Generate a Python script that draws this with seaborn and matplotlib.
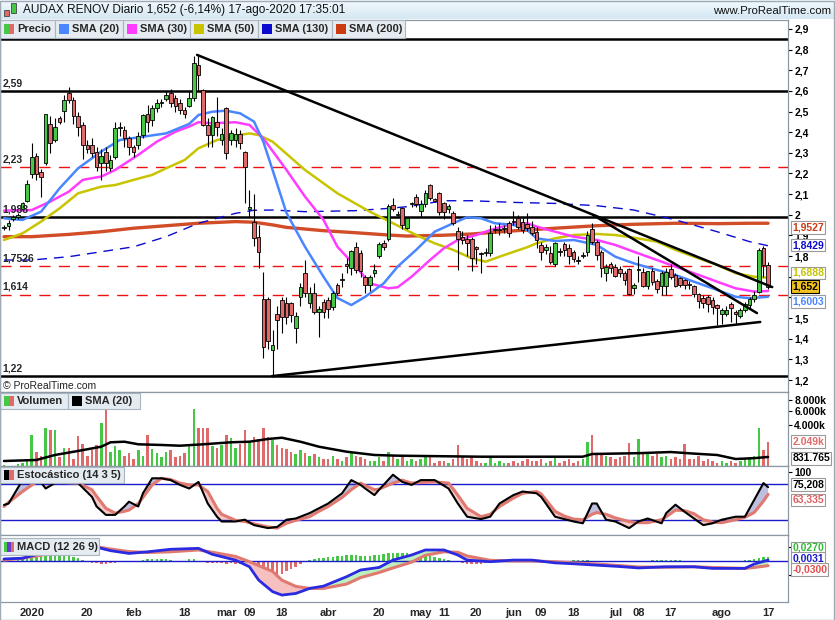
import numpy as np
import pandas as pd
import matplotlib
matplotlib.use("Agg")
import matplotlib.pyplot as plt
from matplotlib.patches import Rectangle
import seaborn as sns

sns.set_style("white")
plt.rcParams['font.family'] = ['Liberation Sans', 'DejaVu Sans']

# ---------------- data ----------------
holidays = ['2019-12-25', '2019-12-26', '2020-01-01', '2020-04-10', '2020-04-13', '2020-05-01']
dates = pd.bdate_range('2019-12-20', '2020-08-17', freq='C', holidays=holidays)

opens = [1.935,1.945,1.98,1.99,2.03,2.067,2.196,2.286,2.209,2.249,
         2.438,2.362,2.467,2.502,2.588,2.555,2.48,2.435,2.338,2.338,
         2.305,2.249,2.305,2.225,2.281,2.42,2.41,2.37,2.33,2.338,
         2.386,2.49,2.457,2.515,2.54,2.559,2.588,2.563,2.54,2.507,
         2.527,2.563,2.725,2.604,2.435,2.386,2.448,2.362,2.515,2.362,
         2.362,2.39,2.305,2.026,1.965,1.89,1.591,1.591,1.346,1.52,
         1.587,1.571,1.571,1.45,1.604,1.717,1.571,1.623,1.531,1.58,
         1.587,1.552,1.66,1.683,1.76,1.74,1.843,1.813,1.70,1.66,
         1.717,1.80,1.862,1.881,2.047,2.00,2.031,1.935,2.05,2.085,
         2.018,2.051,2.144,2.07,2.107,2.056,2.026,2.007,1.923,1.894,
         1.881,1.881,1.846,1.813,1.815,1.813,1.926,1.928,1.93,1.959,
         1.967,1.983,1.967,1.954,1.943,1.918,1.854,1.83,1.813,1.76,
         1.82,1.857,1.841,1.822,1.78,1.80,1.822,1.93,1.87,1.822,
         1.72,1.76,1.749,1.738,1.72,1.736,1.647,1.733,1.725,1.657,
         1.728,1.68,1.655,1.657,1.738,1.709,1.693,1.683,1.665,1.657,
         1.615,1.596,1.60,1.587,1.563,1.518,1.52,1.567,1.531,1.51,
         1.539,1.563,1.59,1.628,1.84,1.757]
highs = [1.95,1.975,2.00,2.01,2.06,2.17,2.346,2.30,2.22,2.49,
         2.48,2.47,2.48,2.58,2.62,2.57,2.50,2.45,2.36,2.37,
         2.33,2.32,2.33,2.29,2.45,2.45,2.43,2.38,2.34,2.40,
         2.49,2.53,2.53,2.56,2.56,2.60,2.61,2.58,2.56,2.52,
         2.60,2.77,2.77,2.61,2.47,2.48,2.57,2.42,2.52,2.41,
         2.42,2.41,2.31,2.12,2.10,1.95,1.725,1.60,1.44,1.56,
         1.60,1.60,1.58,1.53,1.67,1.78,1.65,1.67,1.56,1.59,
         1.60,1.63,1.67,1.72,1.79,1.83,1.87,1.83,1.71,1.71,
         1.76,1.87,1.88,2.05,2.08,2.02,2.04,1.99,2.06,2.10,
         2.07,2.12,2.15,2.08,2.11,2.06,2.05,2.02,1.94,1.92,
         1.90,1.89,1.85,1.82,1.84,1.95,1.95,1.96,1.95,1.97,
         2.02,2.00,1.99,2.01,1.97,1.94,1.87,1.86,1.85,1.87,
         1.84,1.87,1.86,1.83,1.80,1.82,1.92,1.96,1.88,1.83,
         1.76,1.77,1.76,1.75,1.73,1.74,1.67,1.80,1.74,1.73,
         1.74,1.69,1.73,1.74,1.76,1.72,1.70,1.69,1.68,1.66,
         1.62,1.61,1.61,1.60,1.57,1.55,1.56,1.58,1.54,1.55,
         1.58,1.60,1.63,1.84,1.85,1.77]
lows = [1.925,1.925,1.97,1.98,2.02,2.06,2.176,2.17,2.087,2.24,
        2.30,2.35,2.44,2.45,2.54,2.44,2.38,2.27,2.30,2.28,
        2.21,2.17,2.21,2.21,2.27,2.38,2.33,2.29,2.28,2.32,
        2.37,2.40,2.43,2.50,2.52,2.55,2.52,2.50,2.49,2.47,
        2.52,2.55,2.60,2.43,2.33,2.33,2.38,2.34,2.27,2.34,
        2.33,2.32,2.055,1.99,1.85,1.74,1.305,1.35,1.216,1.35,
        1.43,1.47,1.48,1.38,1.56,1.60,1.55,1.52,1.41,1.50,
        1.50,1.54,1.61,1.65,1.72,1.71,1.72,1.70,1.62,1.63,
        1.70,1.79,1.83,1.875,2.02,1.99,1.93,1.93,2.04,2.04,
        1.99,2.04,2.07,2.06,2.00,1.98,2.01,1.95,1.733,1.86,
        1.80,1.73,1.76,1.717,1.80,1.80,1.91,1.90,1.91,1.89,
        1.95,1.93,1.91,1.92,1.90,1.84,1.78,1.81,1.76,1.75,
        1.80,1.80,1.76,1.77,1.76,1.79,1.80,1.86,1.78,1.70,
        1.68,1.72,1.70,1.70,1.66,1.61,1.615,1.676,1.65,1.64,
        1.66,1.62,1.61,1.61,1.69,1.65,1.65,1.64,1.64,1.60,
        1.55,1.55,1.53,1.52,1.466,1.47,1.51,1.48,1.47,1.50,
        1.53,1.55,1.58,1.62,1.70,1.64]
closes = [1.94,1.96,1.99,2.00,2.055,2.147,2.278,2.196,2.184,2.486,
          2.346,2.423,2.448,2.556,2.555,2.48,2.427,2.338,2.318,2.297,
          2.233,2.284,2.249,2.265,2.419,2.425,2.37,2.33,2.305,2.381,
          2.483,2.448,2.515,2.54,2.542,2.58,2.54,2.528,2.507,2.488,
          2.563,2.733,2.676,2.435,2.386,2.475,2.427,2.39,2.297,2.394,
          2.39,2.346,2.233,2.04,1.886,1.82,1.362,1.391,1.37,1.49,
          1.507,1.507,1.515,1.51,1.652,1.62,1.62,1.531,1.542,1.531,
          1.542,1.62,1.62,1.685,1.75,1.825,1.733,1.73,1.66,1.70,
          1.733,1.858,1.843,2.043,2.027,2.002,1.951,1.983,2.051,2.051,
          2.051,2.104,2.08,2.069,2.015,2.015,2.044,1.959,1.881,1.88,
          1.865,1.789,1.833,1.81,1.82,1.91,1.928,1.93,1.935,1.91,
          1.965,1.943,1.927,1.935,1.91,1.878,1.822,1.843,1.773,1.865,
          1.818,1.83,1.802,1.784,1.778,1.801,1.902,1.87,1.806,1.741,
          1.749,1.741,1.705,1.717,1.684,1.615,1.66,1.735,1.657,1.728,
          1.673,1.64,1.72,1.725,1.70,1.657,1.66,1.66,1.66,1.615,
          1.583,1.571,1.567,1.555,1.547,1.539,1.54,1.547,1.518,1.539,
          1.567,1.59,1.612,1.83,1.757,1.652]
volumes = [400,350,300,450,500,600,2700,1200,900,3500,
           3300,3300,800,1500,1500,700,2600,1800,900,1300,
           1700,4200,6300,1200,1600,1300,900,1100,700,1300,
           900,2700,1400,1100,800,1200,1300,800,900,1100,
           1700,6300,3500,3500,3500,1600,1500,1700,2700,2400,
           1500,1800,3300,2000,2500,2300,3600,2500,2200,1700,
           1500,1400,1200,1000,1300,1100,900,1000,800,700,
           700,900,700,600,800,1100,900,800,700,600,
           600,800,600,1200,900,700,800,600,700,600,
           700,800,800,500,600,600,500,700,1700,800,
           700,900,600,500,500,800,500,600,500,500,
           600,500,600,700,600,600,700,500,600,900,
           500,600,700,500,600,700,2000,2700,1100,1000,
           900,800,700,800,900,1900,800,2300,1200,1000,
           900,1000,800,900,700,800,700,1800,700,700,
           900,600,700,600,500,600,500,600,500,600,
           700,800,900,3600,1350,2049]

# moving averages (trading-day index, value)
sma20_k = [0,4,8,12,16,21,25,30,35,40,42,45,48,51,54,56,58,61,65,69,72,75,78,82,85,89,93,97,100,103,106,110,113,115,119,123,128,132,136,141,145,149,154,158,161,165]
sma20_v = [1.983,1.975,2.015,2.128,2.225,2.306,2.362,2.378,2.394,2.44,2.483,2.499,2.504,2.491,2.451,2.354,2.217,2.009,1.845,1.70,1.597,1.563,1.603,1.668,1.749,1.83,1.918,1.959,1.988,1.983,1.959,1.951,1.926,1.886,1.873,1.878,1.854,1.797,1.765,1.733,1.708,1.676,1.636,1.603,1.596,1.603]
sma30_k = [0,6,10,14,17,21,24,29,33,37,40,42,45,50,53,56,61,65,69,72,76,79,83,85,88,92,95,98,102,105,109,113,115,119,123,128,132,136,141,145,149,154,158,162,165]
sma30_v = [2.02,2.023,2.064,2.112,2.169,2.185,2.217,2.29,2.354,2.402,2.427,2.448,2.443,2.448,2.435,2.37,2.217,2.088,1.975,1.845,1.749,1.668,1.644,1.649,1.70,1.781,1.838,1.878,1.902,1.926,1.951,1.959,1.943,1.918,1.894,1.878,1.854,1.821,1.781,1.749,1.717,1.676,1.644,1.628,1.631]
sma50_k = [0,4,8,12,16,21,24,28,32,35,39,42,46,50,53,55,58,65,72,79,84,89,93,97,101,104,108,113,115,119,123,128,132,136,141,145,149,154,158,162,165]
sma50_v = [1.878,1.91,1.967,2.031,2.104,2.136,2.144,2.169,2.193,2.225,2.265,2.322,2.362,2.383,2.394,2.386,2.354,2.217,2.104,2.015,1.959,1.902,1.862,1.83,1.789,1.773,1.805,1.843,1.862,1.886,1.902,1.907,1.902,1.889,1.87,1.83,1.797,1.757,1.717,1.70,1.695]
sma130_k = [0,6,14,21,28,35,42,50,54,58,65,76,83,87,95,101,110,119,128,136,145,154,161,165]
sma130_v = [1.781,1.781,1.797,1.821,1.845,1.894,1.959,2.007,2.022,2.023,2.015,2.02,2.031,2.039,2.068,2.068,2.06,2.055,2.044,2.023,1.975,1.918,1.87,1.85]
sma200_k = [0,6,14,21,28,35,42,50,54,58,61,69,76,83,87,95,101,110,119,128,136,145,154,161,165]
sma200_v = [1.894,1.894,1.905,1.918,1.935,1.947,1.959,1.967,1.964,1.951,1.939,1.923,1.913,1.902,1.897,1.901,1.907,1.922,1.935,1.947,1.954,1.959,1.957,1.959,1.959]

vsma_k = [0,7,11,16,21,23,26,29,34,38,43,49,53,57,60,64,68,74,80,85,91,103,114,125,127,137,144,149,154,158,162,165]
vsma_v = [603,657,957,1240,1580,1975,2030,1790,1730,1665,1790,1975,2030,2300,2430,2030,1580,1185,957,912,890,848,848,848,1024,1080,1163,1050,957,712,760,832]

stoch_k = [0,1,4,7,9,11,13,16,19,20,22,24,26,27,29,30,32,34,36,38,40,42,44,46,47,50,52,54,57,59,61,63,66,68,70,73,75,77,78,80,81,84,86,88,90,93,96,98,100,103,105,107,110,112,115,116,119,121,123,125,127,128,130,132,135,137,139,142,143,145,147,149,151,153,155,158,160,162,164,165]
stoch_K = [45.6,48,87,93,73,82,84,82,59,43,29,29,43,51,43,65,90,90,87,79,73,84,48,26,18,18,21,12,7,9,21,23,32,40,48,65,87,79,73,62,71,96,84,79,87,87,73,48,26,22,26,48,62,68,65,59,26,22,18,15,48,48,21,18,7,18,23,15,32,46,34,23,12,15,21,26,26,54,82,75.2]
stoch_D = [43,50,68,84,84,83,83,82,71,60,40,32,35,37,48,58,79,90,88,82,79,79,68,40,30,20,18,14,9,7,15,20,26,35,43,58,71,82,78,71,72,82,87,82,83,84,82,62,40,26,30,43,57,65,68,64,35,27,22,21,30,33,30,24,18,16,16,21,26,37,36,31,21,17,16,21,25,33,52,63.3]

macd_k = [0,4,8,13,16,20,23,27,31,36,42,45,50,53,55,58,60,63,66,69,74,77,81,84,88,91,95,98,100,105,110,114,119,123,128,133,137,143,149,153,160,162,165]
macd_line = [0.009,0.012,0.033,0.059,0.070,0.060,0.045,0.033,0.040,0.051,0.055,0.029,0.004,-0.025,-0.083,-0.133,-0.148,-0.141,-0.119,-0.109,-0.068,-0.039,-0.028,0.004,0.026,0.048,0.048,0.026,0.004,-0.003,0.004,0.004,-0.008,-0.012,-0.018,-0.024,-0.030,-0.025,-0.025,-0.032,-0.032,-0.013,0.004]
macd_signal = [0.004,0.012,0.025,0.048,0.058,0.062,0.052,0.041,0.037,0.040,0.048,0.038,0.020,-0.003,-0.020,-0.045,-0.083,-0.110,-0.119,-0.119,-0.100,-0.072,-0.050,-0.030,-0.005,0.025,0.040,0.038,0.022,0.003,0.000,0.000,-0.003,-0.008,-0.013,-0.020,-0.026,-0.027,-0.025,-0.028,-0.032,-0.028,-0.020]
macd_hist = [-0.003,-0.003,0.002,0.005,0.008,0.01,0.014,0.018,0.022,0.025,
             0.026,0.026,0.025,0.022,0.02,0.018,0.012,0.006,-0.004,-0.008,
             -0.01,-0.012,-0.012,-0.01,-0.008,-0.006,-0.006,-0.005,-0.004,-0.002,
             0.003,0.008,0.01,0.01,0.01,0.008,0.004,0.002,-0.001,0.002,
             0.008,0.01,-0.002,-0.004,-0.008,-0.01,-0.01,-0.01,-0.012,-0.01,
             -0.012,-0.012,-0.015,-0.02,-0.03,-0.04,-0.055,-0.065,-0.068,-0.06,
             -0.055,-0.045,-0.035,-0.025,-0.015,-0.005,0.004,0.008,0.012,0.015,
             0.016,0.018,0.02,0.022,0.024,0.026,0.025,0.022,0.02,0.022,
             0.025,0.028,0.03,0.033,0.035,0.035,0.034,0.033,0.03,0.028,
             0.025,0.022,0.02,0.018,0.014,0.01,0.006,0.002,-0.004,-0.008,
             -0.012,-0.014,-0.014,-0.012,-0.01,-0.006,-0.003,0.002,0.003,0.003,
             0.002,0.001,-0.001,-0.002,-0.003,-0.004,-0.003,-0.002,-0.002,-0.002,
             -0.001,0.001,0.002,0.004,0.006,0.006,0.004,0.002,-0.001,-0.003,
             -0.004,-0.005,-0.005,-0.004,-0.004,-0.003,-0.002,-0.001,0.001,0.002,
             0.003,0.004,0.005,0.006,0.006,0.005,0.004,0.002,0.001,-0.001,
             -0.002,-0.003,-0.004,-0.004,-0.003,-0.002,-0.001,0.0,0.001,0.002,
             0.003,0.005,0.008,0.014,0.018,0.016]

# drawn support / resistance levels and trendlines
solid_levels = [2.85, 2.60, 1.988, 1.22]
dashed_levels = [2.23, 1.7526, 1.614]
level_labels = ['2,59', '2,23', '1,988', '1,7526', '1,614', '1,22']
level_label_at = [2.60, 2.23, 1.988, 1.7526, 1.614, 1.22]
trend_k = [[41.7, 165.9], [127.2, 162.6], [57.9, 163.3]]
trend_p = [[2.774, 1.650], [1.999, 1.524], [1.219, 1.481]]

tick_dates = ['2020-01-02', '2020-01-20', '2020-02-03', '2020-02-18', '2020-03-02', '2020-03-09',
              '2020-03-18', '2020-04-01', '2020-04-20', '2020-05-04', '2020-05-11', '2020-05-20',
              '2020-06-01', '2020-06-09', '2020-06-18', '2020-07-01', '2020-07-08', '2020-07-17',
              '2020-08-03', '2020-08-17']
tick_labels = ['2020', '20', 'feb', '18', 'mar', '09', '18', 'abr', '20', 'may', '11', '20',
               'jun', '09', '18', 'jul', '08', '17', 'ago', '17']

# ---------------- styling ----------------
W, H = 835, 620
GREEN = '#46c846'
RED = '#e06a6a'
C20, C30, C50, C130, C200 = '#4a86ff', '#ff3cff', '#c8c400', '#0a0ad0', '#cc3a10'
BORDER = '#8c98a4'

fig = plt.figure(figsize=(W / 100, H / 100), dpi=100)
fig.patch.set_facecolor('white')


def fx(px):
    return px / W


def fy(py):
    return 1 - py / H


def add_panel(y0, y1):
    ax = fig.add_axes([0, fy(y1), fx(788), (y1 - y0) / H])
    ax.set_facecolor('white')
    for s in ax.spines.values():
        s.set_color(BORDER)
        s.set_linewidth(0.9)
    ax.yaxis.tick_right()
    ax.tick_params(axis='y', which='both', length=3, width=0.8, pad=1.5, colors='black',
                   labelsize=7.5, direction='out')
    return ax


def value_box(ax, txt, v, col, dy=0, bg='white', ec='#9a9a9a'):
    ax.annotate(txt, xy=(1.0, v), xycoords=('axes fraction', 'data'), xytext=(3, dy),
                textcoords='offset points', fontsize=7.5, fontweight='bold', color=col, va='center',
                ha='left', annotation_clip=False, zorder=20,
                bbox=dict(boxstyle='square,pad=0.12', fc=bg, ec=ec, lw=0.8))


xlim = (-0.86, 169.3)
x = np.arange(len(dates))
o = np.array(opens); h = np.array(highs); l = np.array(lows); c = np.array(closes)
up = c >= o
bar_colors = np.where(up, GREEN, RED)

# ---------- price panel ----------
axp = add_panel(20, 392)
axp.set_xlim(*xlim)
axp.set_ylim(1.142, 2.943)

for lv in dashed_levels:
    axp.axhline(lv, color='#ee1111', lw=1.0, ls=(0, (8, 6)), zorder=1)
for lv in solid_levels:
    axp.axhline(lv, color='black', lw=1.8, zorder=1)

sns.lineplot(x=sma200_k, y=sma200_v, ax=axp, color=C200, lw=2.4, alpha=0.9, estimator=None, sort=False, zorder=2)
sns.lineplot(x=sma130_k, y=sma130_v, ax=axp, color=C130, lw=1.0, linestyle=(0, (7, 5)), estimator=None, sort=False, zorder=2)
sns.lineplot(x=sma50_k, y=sma50_v, ax=axp, color=C50, lw=1.8, estimator=None, sort=False, zorder=2)
sns.lineplot(x=sma30_k, y=sma30_v, ax=axp, color=C30, lw=1.8, estimator=None, sort=False, zorder=2)
sns.lineplot(x=sma20_k, y=sma20_v, ax=axp, color=C20, lw=1.8, estimator=None, sort=False, zorder=2)

axp.vlines(x, l, h, color='black', lw=0.8, zorder=4)
body = np.maximum(np.abs(c - o), 0.005)
axp.bar(x, body, bottom=np.minimum(o, c), width=0.78, color=bar_colors, edgecolor='black',
        linewidth=0.6, zorder=5)

for tk, tp in zip(trend_k, trend_p):
    axp.plot(tk, tp, color='black', lw=1.8, zorder=6)

for txt, lv in zip(level_labels, level_label_at):
    axp.annotate(txt, xy=(0, lv), xycoords=('axes fraction', 'data'), xytext=(2, 2),
                 textcoords='offset points', fontsize=7.5, fontweight='bold', va='bottom', ha='left', zorder=7)

pticks = np.round(np.arange(1.2, 2.91, 0.1), 1)
hidden = {1.6, 1.7}   # covered by the value boxes in the original
axp.set_yticks(pticks)
axp.set_yticklabels(['' if v in hidden else f"{v:g}".replace('.', ',') for v in pticks], fontweight='bold')
axp.set_xticks([])
axp.set_ylabel('')
axp.text(0.004, 6 / 372, '© ProRealTime.com', transform=axp.transAxes, fontsize=7.5, va='center', ha='left',
         color='#222222')

value_box(axp, '1,9527', 1.9527, C200, -2)
value_box(axp, '1,8429', 1.8429, C130, 1.5)
value_box(axp, '1,6888', 1.6888, C50, 4.5)
value_box(axp, '1,652', 1.652, 'black', 0, bg='#f2c21e', ec='black')
value_box(axp, '1,6003', 1.6003, C20, -3)

# ---------- volume panel ----------
axv = add_panel(392, 466)
axv.set_xlim(*xlim)
axv.set_yscale('function', functions=(lambda v: np.sqrt(np.clip(v, 0, None)), lambda v: np.square(v)))
axv.set_ylim(370, 9585)
axv.bar(x, volumes, width=0.55, color=bar_colors, linewidth=0, zorder=2)
sns.lineplot(x=vsma_k, y=vsma_v, ax=axv, color='black', lw=1.8, estimator=None, sort=False, zorder=3)
axv.set_yticks([4000, 6000, 8000])
axv.set_yticklabels(['4.000k', '6.000k', '8.000k'], fontweight='bold')
axv.minorticks_off()
axv.set_xticks([])
axv.set_ylabel('')
value_box(axv, '2.049k', 2049, RED, 0)
value_box(axv, '831.765', 832, 'black', -1)

# ---------- stochastic panel ----------
axs = add_panel(466, 535)
axs.set_xlim(*xlim)
axs.set_ylim(-4.5, 110.5)
sk = np.array(stoch_k, dtype=float); sK = np.array(stoch_K); sD = np.array(stoch_D)
axs.fill_between(sk, sK, sD, where=sK >= sD, interpolate=True, color='#b4b4da', alpha=0.85, lw=0, zorder=1)
axs.fill_between(sk, sK, sD, where=sK < sD, interpolate=True, color='#f6c4c4', alpha=0.9, lw=0, zorder=1)
axs.axhline(80, color='#1a1acc', lw=1.0, zorder=2)
axs.axhline(20, color='#1a1acc', lw=1.0, zorder=2)
sns.lineplot(x=stoch_k, y=stoch_D, ax=axs, color='#e07a70', lw=2.2, estimator=None, sort=False, zorder=3)
sns.lineplot(x=stoch_k, y=stoch_K, ax=axs, color='black', lw=1.5, estimator=None, sort=False, zorder=4)
axs.set_yticks([100])
axs.set_yticklabels(['100'], fontweight='bold')
axs.set_xticks([])
axs.set_ylabel('')
value_box(axs, '75,208', 75.2, 'black', 2)
value_box(axs, '63,335', 63.3, '#e06060', -4)

# ---------- MACD panel ----------
axm = add_panel(535, 602)
axm.set_xlim(*xlim)
axm.set_ylim(-0.178, 0.113)
hist = np.array(macd_hist)
axm.bar(x, hist, width=0.55, color=np.where(hist >= 0, GREEN, RED), linewidth=0, zorder=1)
mk = np.array(macd_k, dtype=float); mL = np.array(macd_line); mS = np.array(macd_signal)
axm.fill_between(mk, mL, mS, where=mL >= mS, interpolate=True, color='#bdf0bd', lw=0, zorder=2)
axm.fill_between(mk, mL, mS, where=mL < mS, interpolate=True, color='#f6c0c0', lw=0, zorder=2)
axm.axhline(0, color='#1a1acc', lw=1.0, zorder=3)
sns.lineplot(x=macd_k, y=macd_signal, ax=axm, color='#e07a70', lw=2.2, estimator=None, sort=False, zorder=4)
sns.lineplot(x=macd_k, y=macd_line, ax=axm, color='#2a2ae0', lw=2.0, estimator=None, sort=False, zorder=5)
axm.set_yticks([-0.062, 0.062])
axm.set_yticklabels(['', ''])
axm.set_ylabel('')
value_box(axm, '0,0270', 0.027, '#33bb33', 5)
value_box(axm, '0,0031', 0.0031, '#1a1acc', 1.5)
value_box(axm, '-0,0300', -0.03, '#e05050', -1)

tick_pos = [dates.get_loc(pd.Timestamp(d)) for d in tick_dates]
axm.set_xticks(tick_pos)
axm.set_xticklabels(tick_labels, fontweight='bold', fontsize=8)
axm.tick_params(axis='x', length=3, width=0.8, color=BORDER, pad=1, direction='out')

# ---------- header ----------
hdr = fig.add_axes([0, fy(19), 1, 19 / H])
grad = np.linspace(0, 1, 20).reshape(-1, 1)
hdr.imshow(grad, aspect='auto', cmap=matplotlib.colors.LinearSegmentedColormap.from_list(
    'h', ['#f2f9fd', '#d5e8f3']), extent=[0, 1, 0, 1], origin='upper')
hdr.set_axis_off()
fig.text(fx(23), fy(10), 'AUDAX RENOV Diario 1,652 (-6,14%) 17-ago-2020 17:35:01', fontsize=8.6,
         va='center', ha='left', color='#111111', zorder=12)
fig.text(fx(831), fy(11), 'www.ProRealTime.com', fontsize=8.2, va='center', ha='right', color='#111111',
         zorder=12)
fig.patches.append(Rectangle((fx(4), fy(16)), 5 / W, 6 / H, transform=fig.transFigure, fc=RED, ec='#444444',
                             lw=0.6, zorder=12))
fig.patches.append(Rectangle((fx(11), fy(13)), 5 / W, 10 / H, transform=fig.transFigure, fc=GREEN, ec='#444444',
                             lw=0.6, zorder=12))


def legend_item(x0, x1, y0, y1, label, icon_colors):
    fig.patches.append(Rectangle((fx(x0), fy(y1)), (x1 - x0) / W, (y1 - y0) / H, transform=fig.transFigure,
                                 fc='#e4ebf1', ec='#a9b5c0', lw=0.8, zorder=10))
    n = len(icon_colors)
    iw = 10 / n
    yc = (y0 + y1) / 2
    for i, col in enumerate(icon_colors):
        fig.patches.append(Rectangle((fx(x0 + 4 + i * iw), fy(yc + 5)), iw / W, 10 / H, transform=fig.transFigure,
                                     fc=col, ec='none', zorder=11))
    fig.text(fx(x0 + 17), fy(yc), label, fontsize=8, fontweight='bold', va='center', ha='left', zorder=12)


legend_item(0, 55, 20, 38, 'Precio', [GREEN, RED])
legend_item(55, 123, 20, 38, 'SMA (20)', [C20])
legend_item(123, 190, 20, 38, 'SMA (30)', [C30])
legend_item(190, 258, 20, 38, 'SMA (50)', [C50])
legend_item(258, 332, 20, 38, 'SMA (130)', [C130])
legend_item(332, 405, 20, 38, 'SMA (200)', [C200])
legend_item(0, 68, 393, 409, 'Volumen', [GREEN, RED])
legend_item(68, 140, 393, 409, 'SMA (20)', ['black'])
legend_item(0, 124, 467, 483, 'Estocástico (14 3 5)', ['black', RED])
legend_item(0, 99, 538, 555, 'MACD (12 26 9)', [GREEN, '#6a3ad0', RED])

fig.patches.append(Rectangle((0, 0), 1 - 1 / W, 1 - 1 / H, transform=fig.transFigure, fc='none', ec='#a0aab4',
                             lw=1.0, zorder=30))

fig.savefig('out.png', dpi=100)
